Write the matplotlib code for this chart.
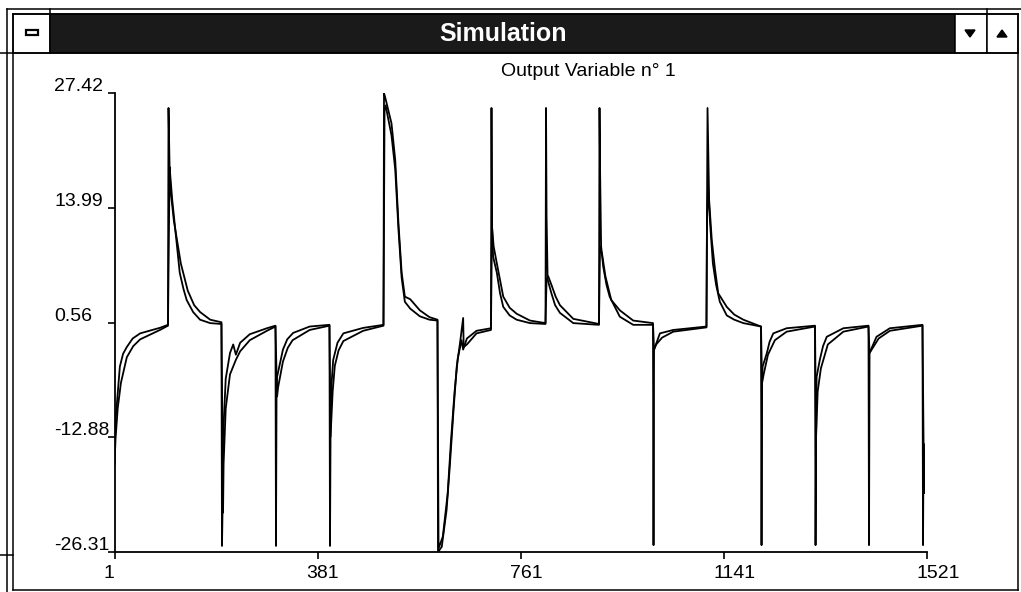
import matplotlib
matplotlib.use("Agg")
import matplotlib.pyplot as plt
import matplotlib.patches as mpatches
import matplotlib.transforms as mtransforms

plt.rcParams['font.family'] = ['Liberation Sans', 'DejaVu Sans']

# axis scale and tick labels
x_ticks = [1, 381, 761, 1141, 1521]
y_ticks = [-26.31, -12.88, 0.56, 13.99, 27.42]
y_tick_labels = ["-26.31", "-12.88", "0.56", "13.99", "27.42"]

# trace 1 (sample index, value)
out1_x = [1, 2, 5, 11, 17, 24, 35, 49, 86, 101,
          102, 104, 109, 123, 130, 136, 148, 161, 180, 201,
          202, 203, 204, 209, 217, 223, 228, 236, 254, 286, 302,
          303, 304, 305, 316, 324, 335, 366, 403,
          404, 405, 407, 410, 418, 429, 466, 504,
          505, 507, 519, 526, 532, 538, 544, 554, 572, 590, 605,
          606, 613, 622, 628, 635, 641, 647, 653, 654, 660, 678, 705,
          706, 707, 709, 716, 722, 728, 740, 753, 778, 807,
          808, 809, 811, 818, 825, 834, 859, 907,
          908, 909, 911, 915, 921, 927, 946, 971, 1008,
          1009, 1010, 1021, 1046, 1108,
          1109, 1110, 1111, 1113, 1118, 1124, 1130, 1146, 1160, 1177, 1210,
          1211, 1212, 1213, 1221, 1226, 1233, 1258, 1311,
          1312, 1313, 1314, 1320, 1326, 1333, 1364, 1411,
          1412, 1413, 1426, 1451, 1512,
          1513, 1514, 1515]
out1_y = [-16.0, -11.5, -9.3, -4.6, -3.1, -2.3, -1.3, -0.7, -0.05, 0.3,
          25.7, 18.8, 14.9, 6.4, 4.5, 3.2, 1.8, 0.9, 0.5, 0.4,
          -25.6, -21.7, -12.8, -6.0, -3.0, -2.0, -3.2, -1.8, -0.8, -0.1, 0.2,
          -25.6, -8.1, -5.8, -2.6, -1.4, -0.65, 0.1, 0.3,
          -25.6, -12.8, -6.5, -3.8, -1.8, -0.7, -0.06, 0.3,
          27.42, 27.0, 23.9, 19.6, 12.2, 6.4, 3.6, 3.3, 2.0, 1.2, 0.9,
          -26.31, -25.7, -21.4, -16.3, -9.7, -4.6, -1.9, 1.1, -2.3, -2.0, -0.7, -0.3,
          25.7, 11.8, 8.3, 6.4, 4.0, 2.4, 1.4, 0.9, 0.5, 0.4,
          25.7, 13.0, 5.6, 4.0, 2.6, 1.7, 0.5, 0.3,
          25.7, 18.8, 9.5, 7.1, 5.0, 3.6, 1.25, 0.3, 0.3,
          -25.5, -2.6, -0.7, -0.3, 0.1,
          12.6, 25.7, 21.9, 14.9, 10.2, 6.8, 4.0, 2.4, 1.5, 0.9, 0.1,
          -25.5, -6.5, -4.6, -3.0, -1.7, -0.7, -0.1, 0.2,
          -25.5, -12.8, -5.8, -3.8, -2.2, -1.1, -0.1, 0.2,
          -25.5, -3.0, -1.1, -0.1, 0.3,
          -25.5, -13.6, -19.4]

# trace 2 (model), slightly different decay
out2_x = [1, 3, 7, 13, 24, 36, 49, 86, 101,
          104, 106, 112, 125, 138, 150, 161, 180, 201,
          204, 205, 209, 217, 228, 236, 254, 286, 302,
          305, 307, 316, 325, 334, 366, 403,
          405, 409, 413, 420, 429, 466, 504,
          506, 508, 519, 526, 532, 538, 544, 554, 572, 590, 605,
          607, 615, 624, 630, 637, 643, 650, 653, 660, 678, 705,
          707, 710, 716, 728, 740, 753, 778, 807,
          809, 812, 818, 826, 834, 859, 907,
          909, 913, 919, 930, 946, 971, 1008,
          1010, 1014, 1025, 1046, 1108,
          1109, 1111, 1115, 1120, 1126, 1133, 1146, 1160, 1177, 1210,
          1212, 1215, 1223, 1236, 1258, 1311,
          1313, 1316, 1322, 1335, 1364, 1411,
          1413, 1417, 1430, 1451, 1512,
          1514, 1515]
out2_y = [-16.0, -13.0, -9.5, -6.5, -3.5, -2.2, -1.4, -0.3, 0.2,
          18.8, 16.0, 12.5, 7.5, 4.3, 2.6, 1.8, 0.9, 0.6,
          -21.7, -16.0, -9.5, -5.5, -3.8, -2.8, -1.5, -0.4, 0.1,
          -8.1, -7.0, -4.0, -2.4, -1.5, -0.3, 0.2,
          -12.8, -7.5, -4.5, -2.7, -1.6, -0.4, 0.2,
          25.5, 26.0, 22.5, 18.5, 11.5, 5.8, 3.0, 2.2, 1.3, 0.9, 0.8,
          -25.9, -24.5, -19.5, -13.5, -7.5, -3.6, -1.5, -2.6, -1.3, -0.4, -0.1,
          11.8, 9.5, 7.5, 3.6, 2.3, 1.6, 0.8, 0.5,
          5.6, 6.0, 5.0, 3.6, 2.6, 1.0, 0.4,
          9.5, 8.5, 6.0, 3.2, 2.0, 0.8, 0.5,
          -2.6, -2.0, -1.2, -0.5, 0.0,
          12.6, 16.5, 12.0, 7.5, 5.0, 3.0, 1.4, 0.9, 0.5, 0.1,
          -6.5, -5.5, -3.2, -1.5, -0.5, 0.1,
          -12.8, -7.5, -4.8, -2.0, -0.5, 0.1,
          -3.0, -2.6, -1.3, -0.4, 0.2,
          -13.6, -17.0]

W, H = 1021, 592
fig = plt.figure(figsize=(W / 100, H / 100), dpi=100)

# ---- window frame (pixel coordinates) ----
bg = fig.add_axes([0, 0, 1, 1])
bg.set_xlim(0, W)
bg.set_ylim(H, 0)
bg.axis('off')

k = dict(color='black', lw=1.1)
bg.plot([6.5, 6.5], [9, H], **k)
bg.plot([12.5, 12.5], [14, 590], **k)
bg.plot([6.5, W], [9, 9], **k)
bg.plot([12.5, 1018], [14, 14], **k)
bg.plot([1018, 1018], [14, 590], **k)
bg.plot([12.5, 1018], [590, 590], **k)
bg.plot([12.5, 1018], [52.5, 52.5], **k)
bg.plot([50, 50], [9, 14], **k)
bg.plot([987, 987], [9, 14], **k)
bg.plot([0, 12.5], [52.5, 52.5], **k)
bg.plot([0, 12.5], [555, 555], **k)

# system menu box
bg.add_patch(mpatches.Rectangle((12.5, 14), 37.5, 38.5, facecolor='white', edgecolor='black', lw=1.1))
bg.add_patch(mpatches.Rectangle((26, 30), 12, 4.5, facecolor='white', edgecolor='black', lw=1.6))
# title bar
bg.add_patch(mpatches.Rectangle((50, 14), 905, 38.5, facecolor='#1a1a1a', edgecolor='black', lw=1.1))
bg.text(503, 34, "Simulation", color='white', fontsize=18, fontweight='bold',
        ha='center', va='center')
# scroll buttons
bg.add_patch(mpatches.Rectangle((955, 14), 32, 38.5, facecolor='white', edgecolor='black', lw=1.1))
bg.add_patch(mpatches.Rectangle((987, 14), 31, 38.5, facecolor='white', edgecolor='black', lw=1.1))
bg.add_patch(mpatches.Polygon([[965, 30], [975, 30], [970, 37]], closed=True, color='black'))
bg.add_patch(mpatches.Polygon([[997, 37], [1007, 37], [1002, 30]], closed=True, color='black'))

# chart title
bg.text(588, 72, "Output Variable n° 1", fontsize=14, ha='center', va='center')

# ---- data axes ----
left, right, top, bottom = 114.5, 927.3, 93.3, 552
ax = fig.add_axes([left / W, 1 - bottom / H, (right - left) / W, (bottom - top) / H])
ax.set_facecolor('none')
ax.plot(out1_x, out1_y, color='black', lw=1.3)
ax.plot(out2_x, out2_y, color='black', lw=1.3)
ax.set_xlim(1, 1521)
ax.set_ylim(-26.31, 27.42)

for s in ['top', 'right']:
    ax.spines[s].set_visible(False)
for s in ['left', 'bottom']:
    ax.spines[s].set_linewidth(1.3)

ax.set_xticks(x_ticks)
ax.set_yticks(y_ticks)
ax.set_xticklabels([])
ax.set_yticklabels([])
ax.tick_params(direction='out', length=5, width=1.2)

# y labels: left aligned at a fixed column, sitting on the tick
ytr = mtransforms.offset_copy(
    mtransforms.blended_transform_factory(fig.transFigure, ax.transData),
    fig=fig, y=2, units='dots')
for v, lab in zip(y_ticks, y_tick_labels):
    ax.text(54 / W, v, lab, transform=ytr, ha='left', va='baseline', fontsize=14)

# x labels: left aligned a bit before each tick
xtr = mtransforms.offset_copy(
    mtransforms.blended_transform_factory(ax.transData, ax.transAxes),
    fig=fig, x=-11, y=-13, units='dots')
for v in x_ticks:
    ax.text(v, 0, str(v), transform=xtr, ha='left', va='top', fontsize=14)

fig.savefig("out.png", dpi=100)
